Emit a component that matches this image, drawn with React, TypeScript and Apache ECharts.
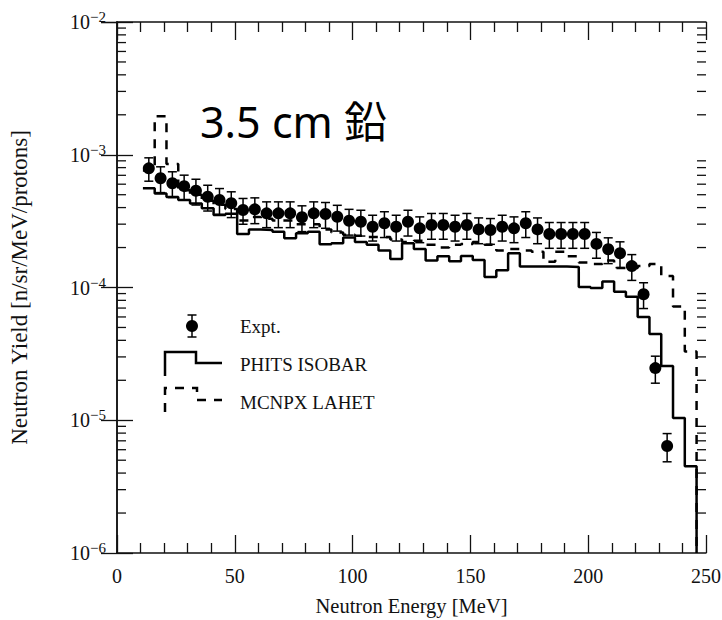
import React, { useEffect, useRef } from "react";
import * as echarts from "echarts";

// Experimental points (energy in MeV, yield)
const exptEnergy = [13.5, 18.5, 23.5, 28.5, 33.5, 38.5, 43.5, 48.5, 53.5, 58.5, 63.5, 68.5, 73.5, 78.5, 83.5, 88.5, 93.5, 98.5, 103.5, 108.5, 113.5, 118.5, 123.5, 128.5, 133.5, 138.5, 143.5, 148.5, 153.5, 158.5, 163.5, 168.5, 173.5, 178.5, 183.5, 188.5, 193.5, 198.5, 203.5, 208.5, 213.5, 218.5, 223.5, 228.5, 233.5];
const exptYield = [
  7.9e-4, 6.65e-4, 6.1e-4, 5.8e-4, 5.36e-4, 4.83e-4, 4.56e-4, 4.31e-4, 3.84e-4, 3.88e-4,
  3.62e-4, 3.62e-4, 3.62e-4, 3.38e-4, 3.62e-4, 3.58e-4, 3.41e-4, 3.18e-4, 3.13e-4, 2.87e-4,
  3.05e-4, 2.87e-4, 3.13e-4, 2.79e-4, 2.96e-4, 2.96e-4, 2.87e-4, 2.96e-4, 2.74e-4, 2.71e-4,
  2.87e-4, 2.79e-4, 3.05e-4, 2.74e-4, 2.53e-4, 2.53e-4, 2.53e-4, 2.53e-4, 2.13e-4, 1.94e-4,
  1.81e-4, 1.45e-4, 8.9e-5, 2.47e-5, 6.4e-6,
];
// relative uncertainty of each point
const exptRelErr = [
  0.2, 0.22, 0.22, 0.21, 0.22, 0.22, 0.22, 0.22, 0.22, 0.22,
  0.22, 0.22, 0.22, 0.22, 0.22, 0.22, 0.22, 0.22, 0.22, 0.22,
  0.22, 0.22, 0.22, 0.22, 0.22, 0.22, 0.22, 0.22, 0.22, 0.22,
  0.22, 0.22, 0.22, 0.22, 0.22, 0.22, 0.22, 0.22, 0.22, 0.22,
  0.22, 0.22, 0.22, 0.23, 0.24,
];

// Histogram bins (lower edges) and last upper edge
const binLow = [11, 16, 21, 26, 31, 36, 41, 46, 51, 56, 61, 66, 71, 76, 81, 86, 91, 96, 101, 106, 111, 116, 121, 126, 131, 136, 141, 146, 151, 156, 161, 166, 171, 176, 181, 186, 191, 196, 201, 206, 211, 216, 221, 226, 231, 236, 241];
const binEnd = 246;

const phitsYield = [
  5.6e-4, 5.1e-4, 4.8e-4, 4.56e-4, 4.3e-4, 3.95e-4, 3.52e-4, 3.6e-4, 2.53e-4, 2.74e-4,
  2.71e-4, 2.63e-4, 2.35e-4, 2.56e-4, 2.63e-4, 2.12e-4, 2.15e-4, 2.38e-4, 2.2e-4, 2.1e-4,
  1.9e-4, 1.64e-4, 2.15e-4, 1.95e-4, 1.6e-4, 1.72e-4, 1.58e-4, 1.73e-4, 1.61e-4, 1.2e-4,
  1.35e-4, 1.81e-4, 1.44e-4, 1.44e-4, 1.44e-4, 1.44e-4, 1.43e-4, 1.01e-4, 9.9e-5, 1.11e-4,
  9.3e-5, 8.5e-5, 6.0e-5, 4.46e-5, 2.56e-5, 1.04e-5, 4.5e-6,
];
const mcnpxYield = [
  7.6e-4, 1.95e-3, 8.5e-4, 5.4e-4, 5.0e-4, 4.5e-4, 4.2e-4, 3.9e-4, 3.2e-4, 3.4e-4,
  3.3e-4, 3.2e-4, 3.2e-4, 3.0e-4, 3.0e-4, 2.74e-4, 2.6e-4, 2.5e-4, 2.45e-4, 2.4e-4,
  2.4e-4, 2.3e-4, 2.2e-4, 2.25e-4, 2.1e-4, 2.0e-4, 2.1e-4, 2.13e-4, 2.2e-4, 2.1e-4,
  1.9e-4, 1.95e-4, 1.9e-4, 1.86e-4, 1.56e-4, 1.86e-4, 1.72e-4, 1.54e-4, 1.5e-4, 1.6e-4,
  1.4e-4, 1.4e-4, 1.45e-4, 1.5e-4, 1.22e-4, 7.2e-5, 3.3e-5,
];

const xTicks = [0, 50, 100, 150, 200, 250];
const yMin = 1e-6;
const yMax = 1e-2;
const yMinorTicks = [
  2e-6, 3e-6, 4e-6, 5e-6, 6e-6, 7e-6, 8e-6, 9e-6,
  2e-5, 3e-5, 4e-5, 5e-5, 6e-5, 7e-5, 8e-5, 9e-5,
  2e-4, 3e-4, 4e-4, 5e-4, 6e-4, 7e-4, 8e-4, 9e-4,
  2e-3, 3e-3, 4e-3, 5e-3, 6e-3, 7e-3, 8e-3, 9e-3,
];

const SERIF = "'Liberation Serif', 'DejaVu Serif', serif";
const INK = "#111";

function histPoints(values: number[]) {
  const pts: number[][] = binLow.map((x, i) => [x, values[i]]);
  pts.push([binEnd, values[values.length - 1]]);
  pts.push([binEnd, yMin]);
  return pts;
}

export default function App() {
  const ref = useRef<HTMLDivElement>(null);
  useEffect(() => {
    if (!ref.current) return;
    const chart = echarts.init(ref.current, null, { renderer: "svg" });
    const supMap: Record<string, string> = { "-2": "−2", "-3": "−3", "-4": "−4", "-5": "−5", "-6": "−6" };
    const option: any = {
      animation: false,
      backgroundColor: "#fff",
      grid: { left: 117, right: 16, top: 22, bottom: 67, outerBoundsMode: "none", show: false },
      xAxis: [
        {
          type: "value",
          min: xTicks[0],
          max: xTicks[xTicks.length - 1],
          interval: 50,
          name: "Neutron Energy [MeV]",
          nameLocation: "middle",
          nameGap: 42,
          nameTextStyle: { fontFamily: SERIF, fontSize: 20.5, color: INK },
          axisLine: { show: true, lineStyle: { color: INK, width: 1.5 } },
          axisTick: { show: true, inside: true, length: 18, lineStyle: { color: INK, width: 1.3 } },
          minorTick: { show: true, splitNumber: 5, length: 10, lineStyle: { color: INK, width: 1.3 } },
          axisLabel: { fontFamily: SERIF, fontSize: 20, color: INK, margin: 13 },
          splitLine: { show: false },
        },
        {
          type: "value",
          position: "top",
          min: xTicks[0],
          max: xTicks[xTicks.length - 1],
          interval: 50,
          axisLine: { show: true, lineStyle: { color: INK, width: 1.5 } },
          axisTick: { show: true, inside: true, length: 18, lineStyle: { color: INK, width: 1.3 } },
          minorTick: { show: true, splitNumber: 5, length: 10, lineStyle: { color: INK, width: 1.3 } },
          axisLabel: { show: false },
          splitLine: { show: false },
        },
      ],
      yAxis: [
        {
          type: "log",
          logBase: 10,
          min: yMin,
          max: yMax,
          name: "Neutron Yield [n/sr/MeV/protons]",
          nameLocation: "middle",
          nameGap: 86,
          nameRotate: 90,
          nameTextStyle: { fontFamily: SERIF, fontSize: 23, color: INK },
          axisLine: { show: true, lineStyle: { color: INK, width: 1.5 } },
          axisTick: { show: true, inside: true, length: 16, lineStyle: { color: INK, width: 1.3 } },
          axisLabel: {
            margin: 11,
            formatter: (v: number) => {
              const e = String(Math.round(Math.log10(v)));
              return `{b|10}{s|${supMap[e] || e}}`;
            },
            rich: {
              b: { fontFamily: SERIF, fontSize: 20, color: INK },
              s: { fontFamily: SERIF, fontSize: 15, color: INK, padding: [0, 0, 10, 0] },
            },
          },
          splitLine: { show: false },
        },
        {
          type: "log",
          logBase: 10,
          min: yMin,
          max: yMax,
          position: "right",
          axisLine: { show: true, lineStyle: { color: INK, width: 1.5 } },
          axisTick: { show: true, inside: true, length: 16, lineStyle: { color: INK, width: 1.3 } },
          axisLabel: { show: false },
          splitLine: { show: false },
        },
      ],
      series: [
        {
          name: "minor ticks",
          type: "custom",
          silent: true,
          data: yMinorTicks.map((v) => [0, v]),
          encode: { x: 0, y: 1 },
          renderItem: (params: any, api: any) => {
            const v = api.value(1);
            const l = api.coord([xTicks[0], v]);
            const r = api.coord([xTicks[xTicks.length - 1], v]);
            const st = { stroke: INK, lineWidth: 1.3 };
            return {
              type: "group",
              children: [
                { type: "line", shape: { x1: l[0], y1: l[1], x2: l[0] + 9, y2: l[1] }, style: st },
                { type: "line", shape: { x1: r[0], y1: r[1], x2: r[0] - 9, y2: r[1] }, style: st },
              ],
            };
          },
          z: 1,
        },
        {
          name: "PHITS ISOBAR",
          type: "line",
          step: "end",
          data: histPoints(phitsYield),
          showSymbol: false,
          symbol: "none",
          lineStyle: { color: "#000", width: 2.5 },
          z: 2,
        },
        {
          name: "MCNPX LAHET",
          type: "line",
          step: "end",
          data: histPoints(mcnpxYield),
          showSymbol: false,
          symbol: "none",
          lineStyle: { color: "#000", width: 2.5, type: [9, 8] },
          z: 2,
        },
        {
          name: "Expt. error",
          type: "custom",
          data: exptEnergy.map((x, i) => [x, exptYield[i], exptYield[i] * (1 - exptRelErr[i]), exptYield[i] * (1 + exptRelErr[i])]),
          encode: { x: 0, y: [1, 2, 3] },
          renderItem: (params: any, api: any) => {
            const x = api.value(0);
            const lo = api.coord([x, api.value(2)]);
            const hi = api.coord([x, api.value(3)]);
            const w = 4.5;
            const st = { stroke: "#000", lineWidth: 1.5 };
            return {
              type: "group",
              children: [
                { type: "line", shape: { x1: hi[0], y1: hi[1], x2: lo[0], y2: lo[1] }, style: st },
                { type: "line", shape: { x1: hi[0] - w, y1: hi[1], x2: hi[0] + w, y2: hi[1] }, style: st },
                { type: "line", shape: { x1: lo[0] - w, y1: lo[1], x2: lo[0] + w, y2: lo[1] }, style: st },
              ],
            };
          },
          z: 3,
        },
        {
          name: "Expt.",
          type: "scatter",
          data: exptEnergy.map((x, i) => [x, exptYield[i]]),
          symbol: "circle",
          symbolSize: 12,
          itemStyle: { color: "#000", opacity: 1 },
          z: 4,
        },
      ],
      graphic: [
        {
          type: "text",
          left: 200,
          top: 100,
          style: {
            text: "3.5 cm 鉛",
            font: "43px 'Noto Sans', 'Noto Sans CJK JP', sans-serif",
            fill: "#000",
          },
          z: 10,
        },
        // legend: Expt.
        { type: "line", shape: { x1: 192, y1: 315, x2: 192, y2: 337 }, style: { stroke: "#000", lineWidth: 1.5 } },
        { type: "line", shape: { x1: 187.5, y1: 315, x2: 196.5, y2: 315 }, style: { stroke: "#000", lineWidth: 1.5 } },
        { type: "line", shape: { x1: 187.5, y1: 337, x2: 196.5, y2: 337 }, style: { stroke: "#000", lineWidth: 1.5 } },
        { type: "circle", shape: { cx: 192, cy: 326, r: 6 }, style: { fill: "#000" } },
        { type: "text", x: 240, y: 326, style: { text: "Expt.", font: `19px ${SERIF}`, fill: INK, textVerticalAlign: "middle" } },
        // legend: PHITS
        {
          type: "polyline",
          shape: { points: [[165, 376], [165, 352], [196, 352], [196, 363], [222, 363]] },
          style: { stroke: "#000", lineWidth: 2.5, fill: null },
        },
        { type: "text", x: 240, y: 364, style: { text: "PHITS ISOBAR", font: `19px ${SERIF}`, fill: INK, textVerticalAlign: "middle" } },
        // legend: MCNPX
        {
          type: "polyline",
          shape: { points: [[165, 412], [165, 388], [197, 388], [197, 400], [222, 400]] },
          style: { stroke: "#000", lineWidth: 2.5, fill: null, lineDash: [9, 8] },
        },
        { type: "text", x: 240, y: 402, style: { text: "MCNPX LAHET", font: `19px ${SERIF}`, fill: INK, textVerticalAlign: "middle" } },
      ],
    };
    chart.setOption(option);
    return () => chart.dispose();
  }, []);
  return (
    <div
      ref={ref}
      style={{ position: "fixed", left: 0, top: 0, width: 722, height: 620, background: "#fff" }}
    />
  );
}
